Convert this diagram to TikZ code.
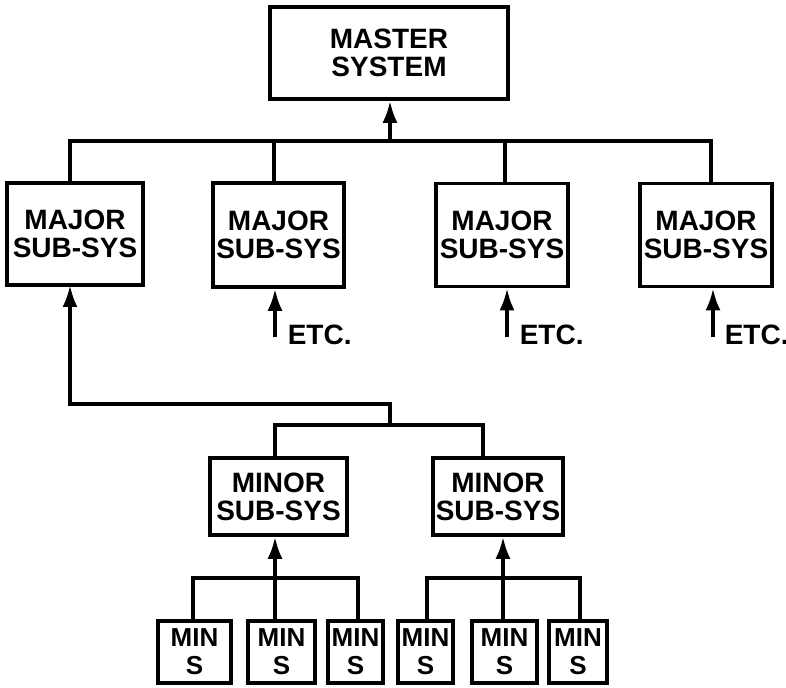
\documentclass[tikz,border=0pt]{standalone}
\usepackage{fontspec}
\setmainfont{Liberation Sans}
\usetikzlibrary{arrows.meta}
\begin{document}
\begin{tikzpicture}[x=0.5pt,y=-0.5pt, line width=1.8pt,
  box/.style={draw, rectangle, inner sep=0pt, align=center, font=\fontsize{14}{14}\selectfont\bfseries},
  minbox/.style={draw, rectangle, inner sep=0pt, align=center, minimum height=31pt, font=\fontsize{13}{14}\selectfont\bfseries},
  etc/.style={inner sep=0pt, anchor=base west, font=\fontsize{14}{14}\selectfont\bfseries},
  up/.style={-{Latex[length=11pt,width=7.5pt]}}]
\useasboundingbox (0,0) rectangle (786,688);

% boxes
\node[box, minimum width=119pt, minimum height=46pt] (master) at (389,53) {MASTER\\SYSTEM};
\node[box, minimum width=68pt, minimum height=51pt] (m1) at (75,234) {MAJOR\\SUB-SYS};
\node[box, minimum width=65.5pt, minimum height=52pt] (m2) at (278.5,235) {MAJOR\\SUB-SYS};
\node[box, minimum width=66pt, minimum height=51.5pt] (m3) at (502,235) {MAJOR\\SUB-SYS};
\node[box, minimum width=66pt, minimum height=51.5pt] (m4) at (706,235) {MAJOR\\SUB-SYS};
\node[box, minimum width=68.5pt, minimum height=38.5pt] (n1) at (278.5,496.5) {MINOR\\SUB-SYS};
\node[box, minimum width=65pt, minimum height=38.5pt] (n2) at (498,496.5) {MINOR\\SUB-SYS};
\node[minbox, minimum width=36.5pt] (s1) at (194.5,652) {MIN\\S};
\node[minbox, minimum width=33.5pt] (s2) at (281.5,652) {MIN\\S};
\node[minbox, minimum width=27.5pt] (s3) at (355.5,652) {MIN\\S};
\node[minbox, minimum width=27.5pt] (s4) at (425.5,652) {MIN\\S};
\node[minbox, minimum width=32.5pt] (s5) at (504.5,652) {MIN\\S};
\node[minbox, minimum width=29pt] (s6) at (578,652) {MIN\\S};

% top bus
\coordinate (b0) at (390,141);
\coordinate (busL) at (70,141);
\coordinate (busR) at (711,141);
\coordinate (d2) at (274,141);
\coordinate (d3) at (505,141);
\draw (busL |- m1.north) -- (busL) -- (busR) -- (busR |- m4.north);
\draw (d2) -- (d2 |- m2.north);
\draw (d3) -- (d3 |- m3.north);
\draw[up] (b0) -- (b0 |- master.south);

% link from minor level to first major
\coordinate (c1) at (390,425);
\coordinate (c2) at (390,404);
\coordinate (c3) at (70,404);
\coordinate (c4) at (70,285);
\draw[up] (c1) -- (c2) -- (c3) -- (c4);

% minor bus
\coordinate (e1) at (275,425);
\coordinate (e2) at (483,425);
\draw (e1 |- n1.north) -- (e1) -- (e2) -- (e2 |- n2.north);

% min buses
\coordinate (f1) at (193,578);
\coordinate (f2) at (275,578);
\coordinate (f3) at (358,578);
\draw (f1 |- s1.north) -- (f1) -- (f3) -- (f3 |- s3.north);
\draw (f2 |- s2.north) -- (f2);
\draw[up] (f2) -- (f2 |- n1.south);
\coordinate (g1) at (427,578);
\coordinate (g2) at (503,578);
\coordinate (g3) at (580,578);
\draw (g1 |- s4.north) -- (g1) -- (g3) -- (g3 |- s6.north);
\draw (g2 |- s5.north) -- (g2);
\draw[up] (g2) -- (g2 |- n2.south);

% ETC arrows
\coordinate (t2) at (275,337);
\coordinate (t3) at (507,337);
\coordinate (t4) at (713,337);
\draw[up] (t2) -- (t2 |- m2.south);
\draw[up] (t3) -- (t3 |- m3.south);
\draw[up] (t4) -- (t4 |- m4.south);
\node[etc] (etc2) at (286,345) {ETC.};
\node[etc] (etc3) at (518,345) {ETC.};
\node[etc] (etc4) at (723,345) {ETC.};
\end{tikzpicture}
\end{document}
